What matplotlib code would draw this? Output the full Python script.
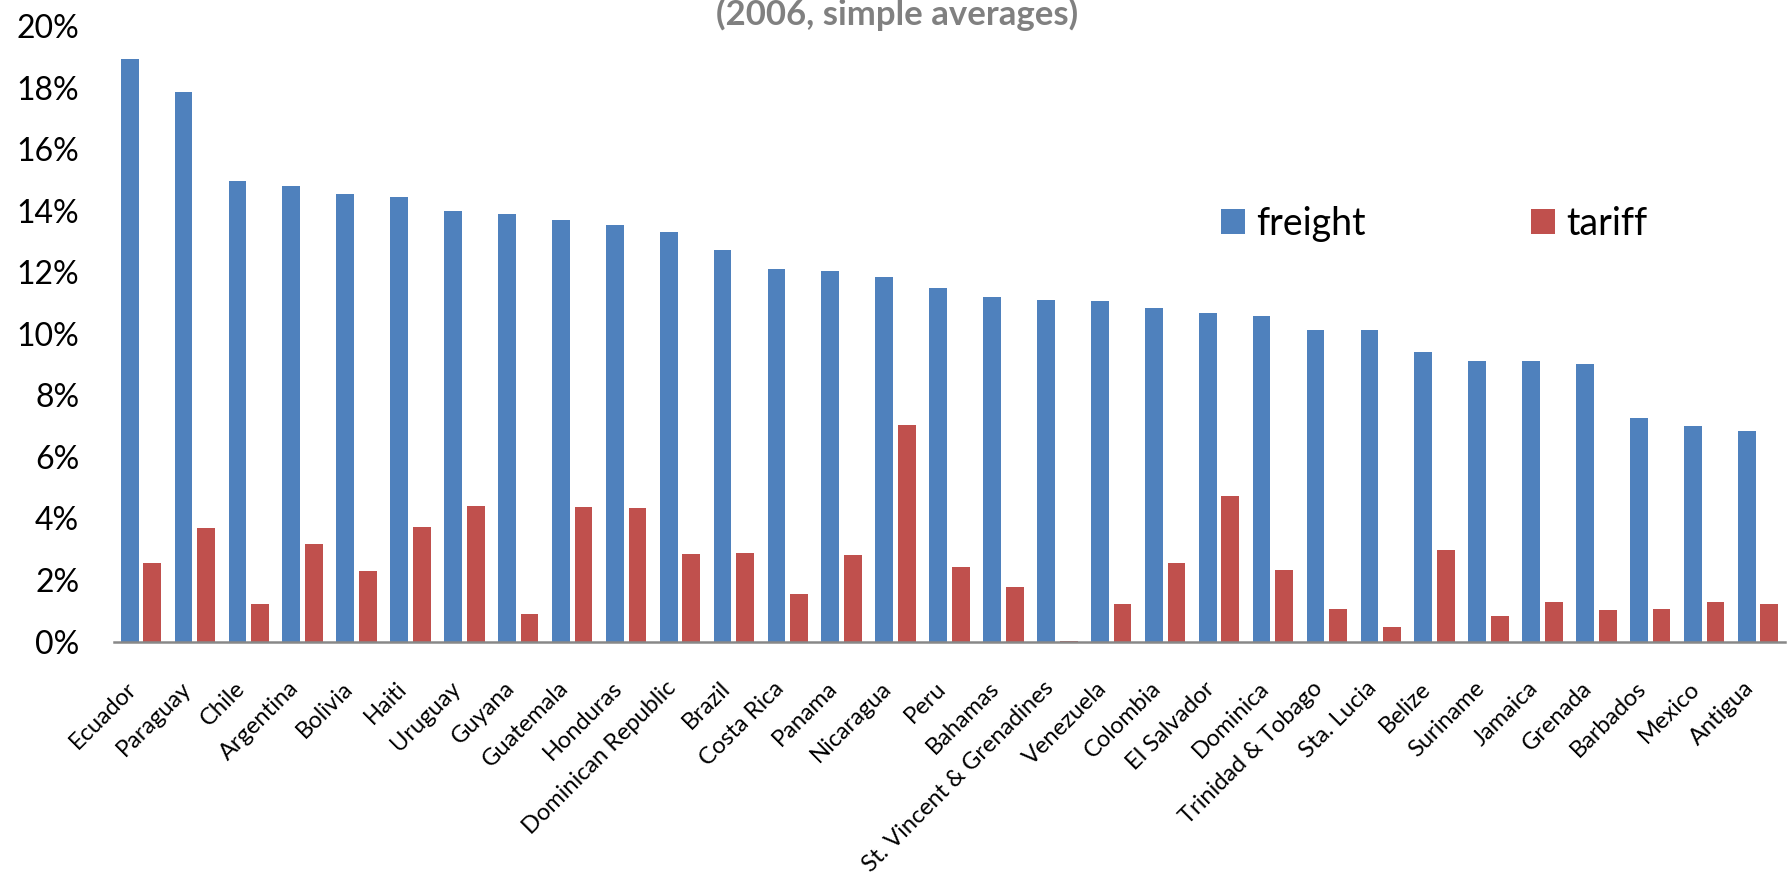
import matplotlib
matplotlib.use("Agg")
import matplotlib.pyplot as plt
import numpy as np
from matplotlib.ticker import PercentFormatter

countries = ["Ecuador", "Paraguay", "Chile", "Argentina", "Bolivia", "Haiti", "Uruguay",
             "Guyana", "Guatemala", "Honduras", "Dominican Republic", "Brazil", "Costa Rica",
             "Panama", "Nicaragua", "Peru", "Bahamas", "St. Vincent & Grenadines", "Venezuela",
             "Colombia", "El Salvador", "Dominica", "Trinidad & Tobago", "Sta. Lucia", "Belize",
             "Suriname", "Jamaica", "Grenada", "Barbados", "Mexico", "Antigua"]

# percent values
freight = [18.92, 17.85, 14.97, 14.80, 14.53, 14.43, 14.00, 13.88, 13.71, 13.53, 13.32,
           12.72, 12.10, 12.03, 11.85, 11.50, 11.20, 11.11, 11.05, 10.83, 10.69, 10.58,
           10.11, 10.11, 9.42, 9.13, 9.13, 9.03, 7.26, 7.01, 6.85]
tariff = [2.55, 3.68, 1.21, 3.16, 2.29, 3.72, 4.40, 0.89, 4.37, 4.35, 2.85,
          2.86, 1.53, 2.82, 7.02, 2.41, 1.77, 0.03, 1.21, 2.56, 4.73, 2.31,
          1.07, 0.46, 2.96, 0.83, 1.29, 1.02, 1.07, 1.29, 1.21]

blue = "#4F81BD"
red = "#C0504D"

plt.rcParams["font.family"] = ["Lato", "DejaVu Sans"]

fig = plt.figure(figsize=(17.87, 8.80), dpi=100)
ax = fig.add_axes([114 / 1787, 1 - 641.5 / 880, 1671 / 1787, (641.5 - 26) / 880])

x = np.arange(len(countries))
f = np.array(freight) / 100
t = np.array(tariff) / 100
ax.bar(x - 0.21, f, width=0.33, color=blue, label="freight")
ax.bar(x + 0.21, t, width=0.33, color=red, label="tariff")

ax.set_xlim(-0.5, len(countries) - 0.5)
ax.set_ylim(0, 0.20)
ax.set_yticks(np.arange(0, 0.201, 0.02))
ax.yaxis.set_major_formatter(PercentFormatter(xmax=1, decimals=0))
ax.tick_params(axis="y", length=0, labelsize=23, pad=25)
ax.set_xticks(x)
ax.set_xticklabels(countries, rotation=45, ha="right", va="top", fontsize=17)
ax.tick_params(axis="x", length=0, pad=26)

for s in ["left", "top", "right"]:
    ax.spines[s].set_visible(False)
ax.spines["bottom"].set_color("#888888")
ax.spines["bottom"].set_linewidth(1.8)

ax.legend(loc="center left", bbox_to_anchor=(1221 / 1787, 1 - 224 / 880),
          bbox_transform=fig.transFigure, ncol=2, frameon=False, fontsize=27,
          handlelength=0.64, handleheight=0.64, handletextpad=0.3,
          columnspacing=4.4, borderpad=0, borderaxespad=0)

fig.text(897 / 1787, 1 - 14 / 880, "(2006, simple averages)", ha="center", va="center",
         fontsize=25, fontweight="bold", color="#808080")

fig.savefig("out.png", dpi=100)
